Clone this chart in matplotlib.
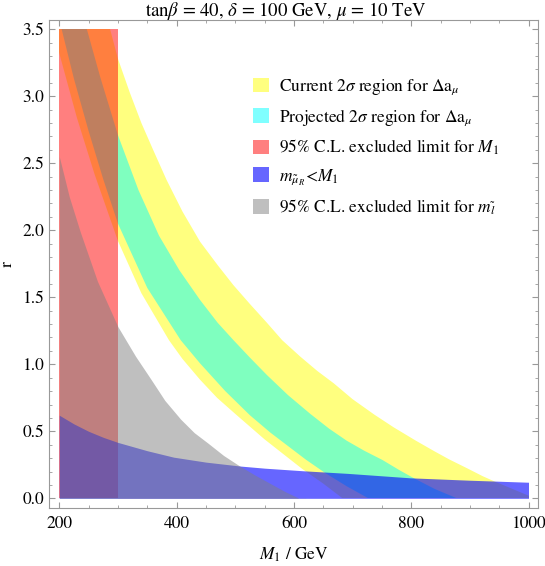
import numpy as np
import matplotlib
matplotlib.use("Agg")
import matplotlib.pyplot as plt
from matplotlib.patches import Patch, Rectangle

plt.rcParams['font.family'] = ['STIXGeneral', 'DejaVu Serif']
plt.rcParams['mathtext.fontset'] = 'stix'

# boundary curves: M1 [GeV] -> r
yellow_outer_x = [280, 286.6, 300, 320, 340, 360, 383, 410, 440, 470, 497, 525, 554, 580, 611,
                  640, 668, 700, 737, 770, 808, 840, 865, 895, 922, 941, 970, 1000, 1020]
yellow_outer_r = [3.61, 3.5, 3.28, 3.03, 2.80, 2.60, 2.375, 2.14, 1.915, 1.74, 1.59, 1.45, 1.31, 1.18, 1.057,
                  0.95, 0.858, 0.74, 0.625, 0.53, 0.43, 0.35, 0.29, 0.225, 0.165, 0.128, 0.075, 0.02, -0.02]
yellow_inner_x = [184, 190, 200, 230, 260, 300, 340, 387, 410, 440, 469, 500, 550, 614, 650, 683, 695]
yellow_inner_r = [3.6, 3.5, 3.32, 2.84, 2.42, 1.92, 1.53, 1.18, 1.04, 0.885, 0.75, 0.63, 0.44, 0.22, 0.11, 0.0, -0.03]

cyan_outer_x = [240, 247, 270, 300, 335, 370, 405, 440, 470, 497, 525, 554, 590, 628, 660,
                690, 720, 751, 780, 805, 840, 878, 890]
cyan_outer_r = [3.62, 3.5, 3.14, 2.71, 2.30, 1.96, 1.70, 1.48, 1.31, 1.18, 1.05, 0.92, 0.77, 0.63, 0.52,
                0.43, 0.355, 0.286, 0.21, 0.149, 0.07, 0.0, -0.03]
cyan_inner_x = [198, 204, 225, 250, 275, 300, 350, 407, 440, 483, 525, 560, 590, 620, 653, 690, 727, 740]
cyan_inner_r = [3.6, 3.5, 3.13, 2.74, 2.38, 2.05, 1.57, 1.18, 1.007, 0.80, 0.62, 0.49, 0.39, 0.29, 0.19, 0.09, 0.0, -0.03]

m1_limit = [200, 300]
r_top = 3.5

blue_x = [200, 225, 250, 275, 300, 350, 395, 450, 508, 550, 614, 692, 798, 900, 1000]
blue_r = [0.62, 0.555, 0.50, 0.455, 0.417, 0.355, 0.307, 0.27, 0.241, 0.225, 0.206, 0.186, 0.153, 0.135, 0.12]

gray_x = [200, 217, 235.6, 265, 300, 330, 356, 380, 407, 430, 454, 480, 508, 535, 560, 585, 609, 620]
gray_r = [2.55, 2.25, 1.99, 1.62, 1.28, 1.06, 0.89, 0.73, 0.59, 0.49, 0.41, 0.32, 0.24, 0.17, 0.11, 0.05, 0.0, -0.03]

labels = [r"Current 2$\sigma$ region for $\Delta\mathrm{a}_{\mu}$",
          r"Projected 2$\sigma$ region for $\Delta\mathrm{a}_{\mu}$",
          r"95% C.L. excluded limit for $M_1$",
          r"$m_{\tilde{\mu}_R}\!<\!M_1$",
          r"95% C.L. excluded limit for $m_{\tilde{l}}$"]

fig = plt.figure(figsize=(5.45, 5.66), dpi=100)
ax = fig.add_axes([0.0905, 0.103, 0.8972, 0.8617])

clip = Rectangle((200, 0), 800, r_top, transform=ax.transData)

def band(outer_x, outer_r, inner_x, inner_r, color, alpha):
    xs = np.concatenate([outer_x, inner_x[::-1]])
    ys = np.concatenate([outer_r, inner_r[::-1]])
    p = ax.fill(xs, ys, color=color, alpha=alpha, lw=0)[0]
    p.set_clip_path(clip)

band(yellow_outer_x, yellow_outer_r, yellow_inner_x, yellow_inner_r, (1, 1, 0), 0.5)
band(cyan_outer_x, cyan_outer_r, cyan_inner_x, cyan_inner_r, (0, 1, 1), 0.5)

ax.fill_between(m1_limit, 0, r_top, color=(1, 0, 0), alpha=0.5, lw=0)
ax.fill_between(blue_x, 0, blue_r, color=(0, 0, 1), alpha=0.6, lw=0)
g = ax.fill_between(gray_x, 0, gray_r, color=(0.5, 0.5, 0.5), alpha=0.5, lw=0)
g.set_clip_path(clip)

handles = [Patch(facecolor=(1, 1, 0), alpha=0.5, lw=0),
           Patch(facecolor=(0, 1, 1), alpha=0.5, lw=0),
           Patch(facecolor=(1, 0, 0), alpha=0.5, lw=0),
           Patch(facecolor=(0, 0, 1), alpha=0.6, lw=0),
           Patch(facecolor=(0.5, 0.5, 0.5), alpha=0.5, lw=0)]
ax.legend(handles, labels, loc='upper left', bbox_to_anchor=(0.4166, 0.882),
          frameon=False, fontsize=12.5, handlelength=0.92, handleheight=0.92,
          handletextpad=0.55, labelspacing=0.58, borderpad=0, borderaxespad=0)

ax.set_xlim(183, 1016.7)
ax.set_ylim(-0.07, 3.569)
ax.set_xticks([200, 400, 600, 800, 1000])
ax.set_xticks(np.arange(200, 1001, 50), minor=True)
ax.set_yticks([0, 0.5, 1.0, 1.5, 2.0, 2.5, 3.0, 3.5])
ax.set_yticks(np.arange(0, 3.51, 0.1), minor=True)
ax.yaxis.set_major_formatter(matplotlib.ticker.FormatStrFormatter('%.1f'))
ax.tick_params(which='both', direction='in', top=True, right=True, color='#999999', labelsize=12.5)
ax.tick_params(which='major', length=4.5, width=0.8)
ax.tick_params(which='minor', length=2.5, width=0.6)
ax.tick_params(axis='x', pad=6)
ax.tick_params(axis='y', pad=4)
for s in ax.spines.values():
    s.set_color('#999999')

ax.set_xlabel(r"$M_1$ / GeV", fontsize=12.5, labelpad=10)
ax.set_ylabel("r", fontsize=12.5)
ax.yaxis.set_label_coords(-0.068, 0.5)
fig.text(0.525, 1 - 11 / 566, r"tan$\beta$ = 40, $\delta$ = 100 GeV, $\mu$ = 10 TeV",
         fontsize=13.5, ha='center', va='center')

fig.savefig("out.png", dpi=100)
